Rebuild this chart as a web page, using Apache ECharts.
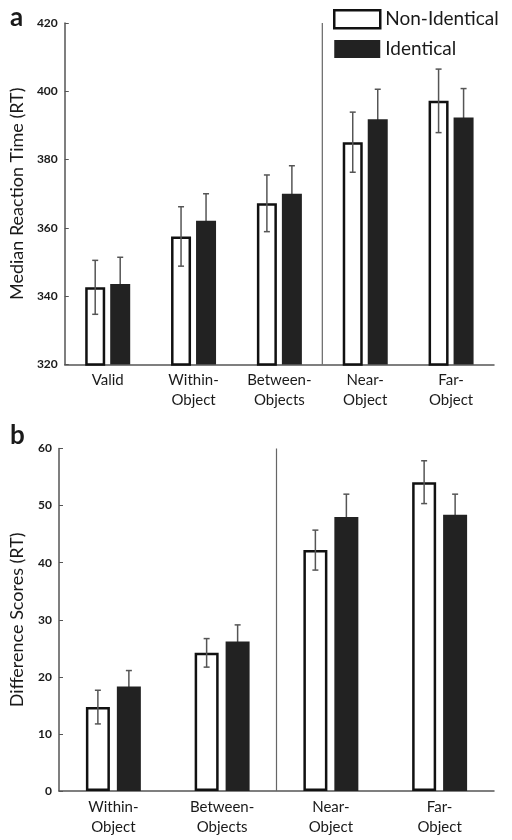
<!DOCTYPE html>
<html>
<head>
<meta charset="utf-8">
<script src="https://cdn.jsdelivr.net/npm/echarts@6/dist/echarts.min.js"></script>
<style>html,body{margin:0;padding:0;background:#fff;}#c{width:512px;height:840px;}</style>
</head>
<body>
<div id="c"></div>
<script>
// ---- data ----
var categoriesA = ['Valid', 'Within-\nObject', 'Between-\nObjects', 'Near-\nObject', 'Far-\nObject'];
var nonIdenticalA = [342.6, 357.5, 367.2, 385.1, 397.2];
var identicalA = [343.6, 362.1, 370.0, 391.8, 392.3];
var seNonIdenticalA = [7.9, 8.7, 8.3, 8.8, 9.3];
var seIdenticalA = [7.8, 7.9, 8.2, 8.8, 8.5];
var separatorBeforeA = [3];   // vertical divider drawn before this category

var categoriesB = ['Within-\nObject', 'Between-\nObjects', 'Near-\nObject', 'Far-\nObject'];
var nonIdenticalB = [14.7, 24.2, 42.2, 54.1];
var identicalB = [18.3, 26.2, 48.0, 48.4];
var seNonIdenticalB = [2.95, 2.5, 3.5, 3.75];
var seIdenticalB = [2.8, 2.9, 4.0, 3.6];
var separatorBeforeB = [2];

var ticksA = { min: 320, max: 420, interval: 20 };
var ticksB = { min: 0, max: 60, interval: 10 };

// ---- styles ----
var FONT = 'Lato';
var TXT = '#1a1a1a';
var AXIS = '#555';
var ERR = '#555';

function errData(vals, ses) {
  return vals.map(function (v, i) { return [i, v, ses[i]]; });
}
function errRender(offset) {
  return function (params, api) {
    var i = api.value(0), v = api.value(1), se = api.value(2);
    var top = api.coord([i, v + se]);
    var bot = api.coord([i, v - se]);
    var x = top[0] + offset;
    var cap = 3;
    var st = { stroke: ERR, lineWidth: 1.5 };
    return {
      type: 'group',
      children: [
        { type: 'line', shape: { x1: x, y1: top[1], x2: x, y2: bot[1] }, style: st },
        { type: 'line', shape: { x1: x - cap, y1: top[1], x2: x + cap, y2: top[1] }, style: st },
        { type: 'line', shape: { x1: x - cap, y1: bot[1], x2: x + cap, y2: bot[1] }, style: st }
      ]
    };
  };
}
function sepRender(t) {
  return function (params, api) {
    var i = api.value(0);
    var c = api.coord([i, t.min]);
    var c2 = api.coord([i, t.max]);
    var band = api.size([1, 0])[0];
    var x = c[0] - band / 2;
    return { type: 'line', shape: { x1: x, y1: c2[1], x2: x, y2: c[1] }, style: { stroke: '#666', lineWidth: 1.2 } };
  };
}

var whiteStyle = { color: '#fff', borderColor: '#111', borderWidth: 2.5 };
var blackStyle = { color: '#222' };

function xAxisCfg(gridIndex, cats) {
  return {
    type: 'category', gridIndex: gridIndex, data: cats,
    axisLine: { lineStyle: { color: AXIS, width: 1.5 } },
    axisTick: { show: false },
    axisLabel: { color: TXT, fontFamily: FONT, fontSize: 15, lineHeight: 20, margin: 6 },
    splitLine: { show: false }
  };
}
function yAxisCfg(gridIndex, t, name) {
  return {
    type: 'value', gridIndex: gridIndex, min: t.min, max: t.max, interval: t.interval,
    name: name, nameLocation: 'middle', nameRotate: 90, nameGap: 33,
    nameTextStyle: { color: TXT, fontFamily: FONT, fontSize: 18 },
    axisLine: { show: true, lineStyle: { color: AXIS, width: 1.5 } },
    axisTick: { show: true, inside: true, length: 4, lineStyle: { color: AXIS } },
    axisLabel: { color: TXT, fontFamily: FONT, fontSize: 12, fontWeight: 'bold', margin: 7 },
    splitLine: { show: false }
  };
}

var chart = echarts.init(document.getElementById('c'), null, { renderer: 'canvas' });
chart.setOption({
  backgroundColor: '#fff',
  animation: false,
  title: [
    { text: 'a', left: 5, top: 0, textStyle: { fontFamily: FONT, fontSize: 26, fontWeight: 'bold', color: TXT } },
    { text: 'b', left: 5, top: 418, textStyle: { fontFamily: FONT, fontSize: 26, fontWeight: 'bold', color: TXT } }
  ],
  legend: {
    left: 333, top: 9, orient: 'vertical', padding: 0,
    itemWidth: 46, itemHeight: 18, itemGap: 10,
    textStyle: { color: TXT, fontFamily: FONT, fontSize: 19 },
    data: [
      { name: 'Non-Identical', icon: 'rect', itemStyle: whiteStyle },
      { name: 'Identical', icon: 'rect', itemStyle: blackStyle }
    ]
  },
  grid: [
    { left: 59, right: 18, top: 23, bottom: 475.5 },
    { left: 59, right: 18, top: 448.5, bottom: 49 }
  ],
  xAxis: [xAxisCfg(0, categoriesA), xAxisCfg(1, categoriesB)],
  yAxis: [yAxisCfg(0, ticksA, 'Median Reaction Time (RT)'), yAxisCfg(1, ticksB, 'Difference Scores (RT)')],
  series: [
    { name: 'Non-Identical', type: 'bar', xAxisIndex: 0, yAxisIndex: 0, data: nonIdenticalA, barWidth: 20, barGap: '25%', itemStyle: whiteStyle, z: 2 },
    { name: 'Identical', type: 'bar', xAxisIndex: 0, yAxisIndex: 0, data: identicalA, barWidth: 20, barGap: '25%', itemStyle: blackStyle, z: 2 },
    { name: 'Non-Identical', type: 'bar', xAxisIndex: 1, yAxisIndex: 1, data: nonIdenticalB, barWidth: 24, barGap: '29%', itemStyle: whiteStyle, z: 2 },
    { name: 'Identical', type: 'bar', xAxisIndex: 1, yAxisIndex: 1, data: identicalB, barWidth: 24, barGap: '29%', itemStyle: blackStyle, z: 2 },
    { name: 'Non-Identical', type: 'custom', xAxisIndex: 0, yAxisIndex: 0, data: errData(nonIdenticalA, seNonIdenticalA), renderItem: errRender(-12.5), z: 3 },
    { name: 'Identical', type: 'custom', xAxisIndex: 0, yAxisIndex: 0, data: errData(identicalA, seIdenticalA), renderItem: errRender(12.5), z: 1 },
    { name: 'Non-Identical', type: 'custom', xAxisIndex: 1, yAxisIndex: 1, data: errData(nonIdenticalB, seNonIdenticalB), renderItem: errRender(-15.5), z: 3 },
    { name: 'Identical', type: 'custom', xAxisIndex: 1, yAxisIndex: 1, data: errData(identicalB, seIdenticalB), renderItem: errRender(15.5), z: 1 },
    { type: 'custom', xAxisIndex: 0, yAxisIndex: 0, data: separatorBeforeA.map(function (i) { return [i]; }), renderItem: sepRender(ticksA), z: 1, silent: true },
    { type: 'custom', xAxisIndex: 1, yAxisIndex: 1, data: separatorBeforeB.map(function (i) { return [i]; }), renderItem: sepRender(ticksB), z: 1, silent: true }
  ]
});
</script>
</body>
</html>
